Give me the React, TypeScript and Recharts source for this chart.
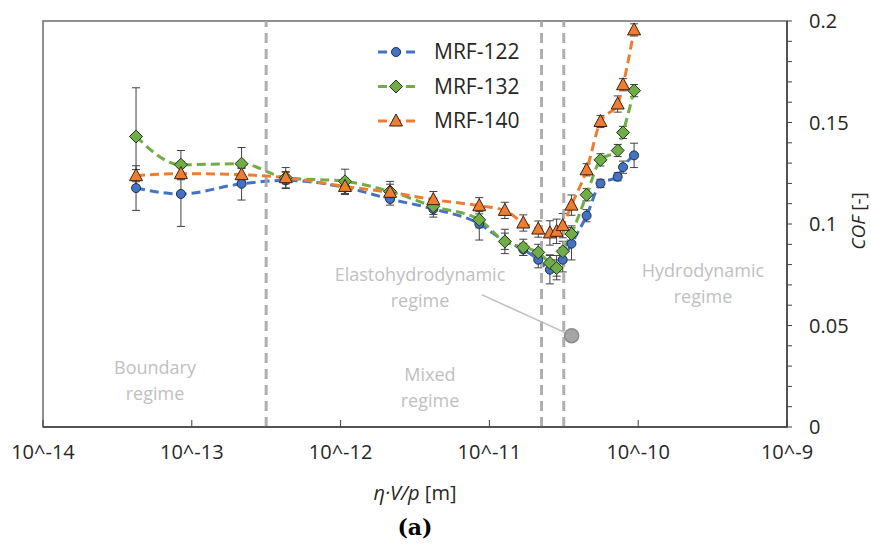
import React from 'react';
import {
  ComposedChart, Line, XAxis, YAxis, ErrorBar, ReferenceLine, ReferenceArea, ReferenceDot,
} from 'recharts';

// eta*V/p [m]
const xValues = [
  4.22e-14, 8.45e-14, 2.16e-13, 4.28e-13, 1.07e-12, 2.15e-12, 4.2e-12, 8.55e-12, 1.27e-11, 1.69e-11,
  2.13e-11, 2.55e-11, 2.83e-11, 3.11e-11, 3.56e-11, 4.5e-11, 5.58e-11, 7.28e-11, 7.91e-11, 9.38e-11,
];

const mrf122 = [
  0.1177, 0.1148, 0.1198, 0.1215, 0.1180, 0.1123, 0.1074, 0.1001, 0.0915, 0.0875,
  0.0824, 0.0775, 0.0785, 0.0824, 0.0903, 0.1041, 0.1200, 0.1233, 0.1280, 0.1338,
];
const mrf122Err = [
  0.011, 0.016, 0.008, 0.004, 0.003, 0.003, 0.004, 0.008, 0.004, 0.003,
  0.004, 0.007, 0.006, 0.006, 0.008, 0.003, 0.002, 0.002, 0.003, 0.006,
];

const mrf132 = [
  0.1431, 0.1292, 0.1297, 0.1228, 0.1210, 0.1160, 0.1087, 0.1021, 0.0914, 0.0885,
  0.0860, 0.0808, 0.0783, 0.0865, 0.0951, 0.1144, 0.1316, 0.1362, 0.1451, 0.1657,
];
const mrf132Err = [
  0.024, 0.007, 0.008, 0.005, 0.006, 0.005, 0.004, 0.004, 0.006, 0.004,
  0.004, 0.004, 0.004, 0.005, 0.004, 0.003, 0.003, 0.003, 0.003, 0.003,
];

const mrf140 = [
  0.1238, 0.1248, 0.1243, 0.1228, 0.1185, 0.1156, 0.1120, 0.1090, 0.1067, 0.1005,
  0.0975, 0.0956, 0.0964, 0.0992, 0.1093, 0.1267, 0.1505, 0.1591, 0.1686, 0.1956,
];
const mrf140Err = [
  0.003, 0.003, 0.003, 0.003, 0.004, 0.004, 0.004, 0.004, 0.004, 0.004,
  0.004, 0.006, 0.006, 0.006, 0.005, 0.003, 0.003, 0.004, 0.003, 0.003,
];

const xTicks = [1e-14, 1e-13, 1e-12, 1e-11, 1e-10, 1e-9];
const xTickLabels = ['10^-14', '10^-13', '10^-12', '10^-11', '10^-10', '10^-9'];
const yTicks = [
  0, 0.01, 0.02, 0.03, 0.04, 0.05, 0.06, 0.07, 0.08, 0.09, 0.1,
  0.11, 0.12, 0.13, 0.14, 0.15, 0.16, 0.17, 0.18, 0.19, 0.2,
];
const yTickLabels = ['0', '0.05', '0.1', '0.15', '0.2'];

// regime boundaries on the x axis
const regimeBounds = [3.16e-13, 2.24e-11, 3.16e-11];
// pointer from the EHL label to the grey dot
const pointerFrom = { x: 8.87e-12, y: 0.0652 };
const pointerTo = { x: 3.57e-11, y: 0.045 };

const BLUE = '#4472C4';
const GREEN = '#70AD47';
const ORANGE = '#ED7D31';
const FONT = '"Open Sans", sans-serif';
const TEXT = '#262626';
const NOTE = '#BFBFBF';

const data = xValues.map((x, i) => ({
  x,
  a: mrf122[i], aErr: mrf122Err[i],
  b: mrf132[i], bErr: mrf132Err[i],
  c: mrf140[i], cErr: mrf140Err[i],
}));

const Circle = ({ cx, cy }: any) => (
  <circle cx={cx} cy={cy} r={4.5} fill={BLUE} stroke="#1f2d4d" strokeWidth={1} />
);
const Diamond = ({ cx, cy }: any) => (
  <polygon points={`${cx},${cy - 6.5} ${cx + 6.5},${cy} ${cx},${cy + 6.5} ${cx - 6.5},${cy}`}
    fill={GREEN} stroke="#24381a" strokeWidth={1} />
);
const Triangle = ({ cx, cy }: any) => (
  <polygon points={`${cx},${cy - 7} ${cx + 6.5},${cy + 5} ${cx - 6.5},${cy + 5}`}
    fill={ORANGE} stroke="#3d2010" strokeWidth={1} />
);

const series = [
  { key: 'a', name: 'MRF-122', color: BLUE, Marker: Circle },
  { key: 'b', name: 'MRF-132', color: GREEN, Marker: Diamond },
  { key: 'c', name: 'MRF-140', color: ORANGE, Marker: Triangle },
];

const XTick = ({ x, y, payload, index }: any) => (
  <g>
    <line x1={x} y1={y} x2={x} y2={y - 7} stroke="#404040" strokeWidth={1} />
    <text x={x} y={y + 32} textAnchor="middle" fontSize={20} fontFamily={FONT} fill={TEXT}>
      {xTickLabels[index] ?? payload.value}
    </text>
  </g>
);

// two-line grey regime note
const Note = ({ x, y, lines }: { x: number; y: number; lines: string[] }) => (
  <text x={x} y={y} textAnchor="middle" fontSize={18} fontFamily={FONT} fill={NOTE}>
    {lines.map((l, i) => (
      <tspan key={i} x={x} dy={i === 0 ? 0 : 26}>{l}</tspan>
    ))}
  </text>
);

export default function App() {
  return (
    <div style={{ position: 'absolute', left: 0, top: 0, width: 871, height: 551, background: '#fff' }}>
      <ComposedChart width={871} height={551} data={data} margin={{ top: 21, right: 24, bottom: 24, left: 43 }}>
        <ReferenceArea x1={1e-14} x2={1e-9} y1={0} y2={0.2} fill="none" stroke="#6b6b6b" strokeWidth={1.5} />
        <XAxis
          dataKey="x" type="number" scale="log" domain={[1e-14, 1e-9]} ticks={xTicks}
          allowDataOverflow height={100} tickSize={0} tickMargin={0} tickLine={false}
          tick={<XTick />} axisLine={{ stroke: '#404040', strokeWidth: 1.5 }} interval={0}
        />
        <YAxis
          orientation="right" domain={[0, 0.2]} ticks={yTicks} interval={0} width={60}
          tickSize={5} tickMargin={17} axisLine={{ stroke: '#404040', strokeWidth: 1.5 }}
          tickLine={{ stroke: '#404040' }}
          tick={{ fontSize: 20, fontFamily: FONT, fill: TEXT, textAnchor: 'start' }}
          tickFormatter={(v: number) => {
            const lbl = yTickLabels.find((t) => Math.abs(Number(t) - v) < 1e-9);
            return lbl ?? '';
          }}
        />
        {series.map((s) => (
          <Line
            key={s.key} dataKey={s.key} name={s.name} type="monotone" stroke={s.color}
            strokeWidth={3} strokeDasharray="9 5" isAnimationActive={false}
            dot={(p: any) => <s.Marker key={p.index} cx={p.cx} cy={p.cy} />}
            activeDot={false}
          >
            <ErrorBar dataKey={`${s.key}Err`} width={4} stroke="#404040" strokeWidth={1} direction="y" />
          </Line>
        ))}
        {regimeBounds.map((b) => (
          <ReferenceLine key={b} x={b} stroke="#A6A6A6" strokeWidth={3} strokeDasharray="10 6" strokeOpacity={0.9} />
        ))}
        <ReferenceLine segment={[pointerFrom, pointerTo]} stroke={NOTE} strokeWidth={1.5} />
        <ReferenceDot x={pointerTo.x} y={pointerTo.y} r={7} fill="#A6A6A6" stroke="#8c8c8c" strokeWidth={1.5} />
      </ComposedChart>

      {/* legend, notes and axis titles */}
      <svg width={871} height={551} style={{ position: 'absolute', left: 0, top: 0, pointerEvents: 'none' }}>
        {series.map((s, i) => {
          const cy = 52 + i * 34.5;
          return (
            <g key={s.key}>
              <line x1={378} y1={cy} x2={415} y2={cy} stroke={s.color} strokeWidth={3} strokeDasharray="9 5" />
              <s.Marker cx={396} cy={cy} />
              <text x={434} y={cy + 7} fontSize={21} fontFamily={FONT} fill={TEXT}>{s.name}</text>
            </g>
          );
        })}
        <Note x={155} y={374} lines={['Boundary', 'regime']} />
        <Note x={430} y={381} lines={['Mixed', 'regime']} />
        <Note x={420} y={281} lines={['Elastohydrodynamic', 'regime']} />
        <Note x={703} y={277} lines={['Hydrodynamic', 'regime']} />
        <text x={415} y={500} textAnchor="middle" fontSize={20} fontFamily={FONT} fill={TEXT}>
          <tspan fontStyle="italic">η·V/p</tspan> [m]
        </text>
        <g transform="translate(865 221) rotate(-90)">
          <text x={0} y={0} textAnchor="middle" fontSize={19} fontFamily={FONT} fill={TEXT}>
            <tspan fontStyle="italic">COF</tspan> [-]
          </text>
        </g>
        <text x={415} y={535} textAnchor="middle" fontSize={22} fontWeight="bold" fontFamily='"DejaVu Serif", serif' fill="#000">
          (a)
        </text>
      </svg>
    </div>
  );
}
